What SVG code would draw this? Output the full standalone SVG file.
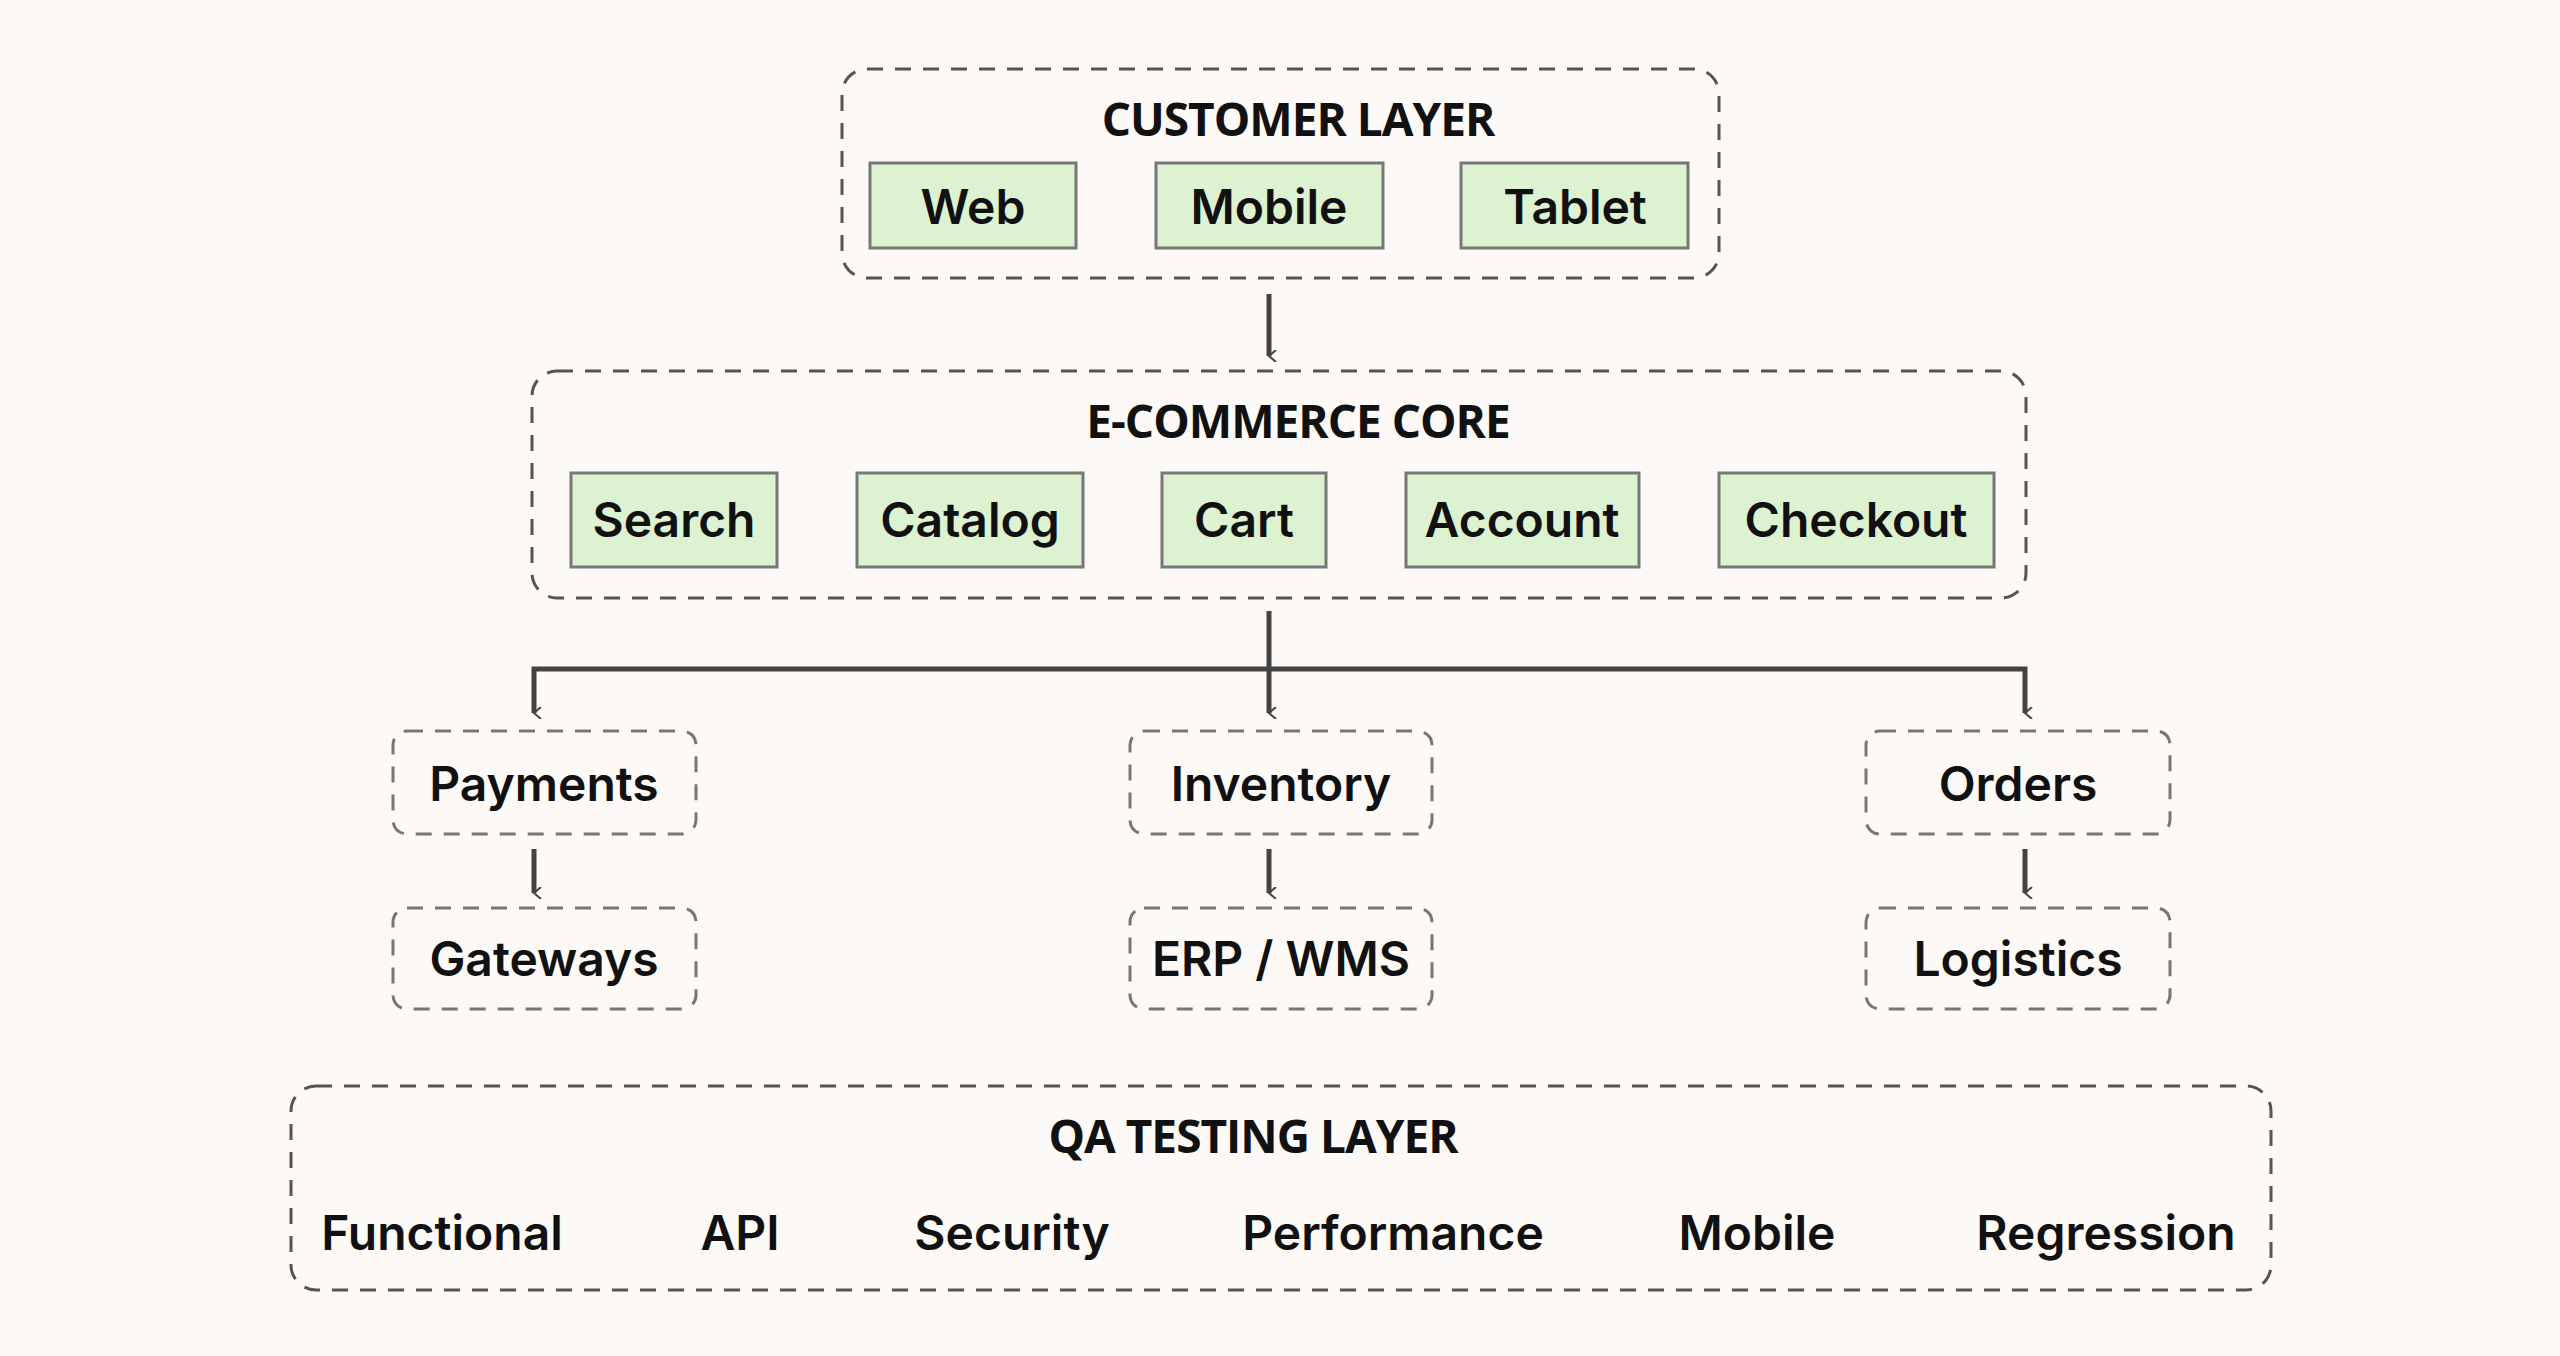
<svg xmlns="http://www.w3.org/2000/svg" width="2560" height="1356" viewBox="0 0 2560 1356">
<style>
.layer{fill:none;stroke:#555;stroke-width:3;stroke-dasharray:16 12}
.svc{fill:#fcf9f7;stroke:#777;stroke-width:3;stroke-dasharray:16 12}
.mod{fill:#dcf2d0;stroke:#777;stroke-width:3}
.title{font-family:"Open Sans",sans-serif;font-weight:700;font-size:46px;fill:#111;text-anchor:middle;dominant-baseline:central;letter-spacing:-1px}
.lbl{font-family:Inter,"Open Sans",sans-serif;font-weight:600;font-size:48px;fill:#111;text-anchor:middle;dominant-baseline:central}
.conn{fill:none;stroke:#444;stroke-width:5}
</style>
<defs><marker id="ah" markerWidth="12" markerHeight="12" refX="6" refY="10" orient="auto-start-reverse" markerUnits="userSpaceOnUse" viewBox="0 0 12 12"><path d="M0,3 L6,10 L12,3" fill="none" stroke="#444" stroke-width="2"/></marker></defs>
<rect width="2560" height="1356" fill="#fcf9f7"/>
<g id="customer-layer">
<rect class="layer" x="842" y="69" width="877" height="209" rx="25"/>
<text class="title" x="1298" y="118">CUSTOMER LAYER</text>
<g id="web"><rect class="mod" x="870" y="163" width="206" height="85"/><text class="lbl" x="973" y="206">Web</text></g>
<g id="mobile"><rect class="mod" x="1156" y="163" width="227" height="85"/><text class="lbl" x="1269" y="206">Mobile</text></g>
<g id="tablet"><rect class="mod" x="1461" y="163" width="227" height="85"/><text class="lbl" x="1575" y="206">Tablet</text></g>
</g>
<g id="ecommerce-core">
<rect class="layer" x="532" y="371" width="1494" height="227" rx="25"/>
<text class="title" x="1298" y="420">E-COMMERCE CORE</text>
<g id="search"><rect class="mod" x="571" y="473" width="206" height="94"/><text class="lbl" x="674" y="519">Search</text></g>
<g id="catalog"><rect class="mod" x="857" y="473" width="226" height="94"/><text class="lbl" x="970" y="519">Catalog</text></g>
<g id="cart"><rect class="mod" x="1162" y="473" width="164" height="94"/><text class="lbl" x="1244" y="519">Cart</text></g>
<g id="account"><rect class="mod" x="1406" y="473" width="233" height="94"/><text class="lbl" x="1522" y="519">Account</text></g>
<g id="checkout"><rect class="mod" x="1719" y="473" width="275" height="94"/><text class="lbl" x="1856" y="519">Checkout</text></g>
</g>
<g id="payments"><rect class="svc" x="393" y="731" width="303" height="103" rx="14"/><text class="lbl" x="544" y="783">Payments</text></g>
<g id="inventory"><rect class="svc" x="1130" y="731" width="302" height="103" rx="14"/><text class="lbl" x="1281" y="783">Inventory</text></g>
<g id="orders"><rect class="svc" x="1866" y="731" width="304" height="103" rx="14"/><text class="lbl" x="2018" y="783">Orders</text></g>
<g id="gateways"><rect class="svc" x="393" y="908" width="303" height="101" rx="14"/><text class="lbl" x="544" y="958">Gateways</text></g>
<g id="erp-wms"><rect class="svc" x="1130" y="908" width="302" height="101" rx="14"/><text class="lbl" x="1281" y="958">ERP / WMS</text></g>
<g id="logistics"><rect class="svc" x="1866" y="908" width="304" height="101" rx="14"/><text class="lbl" x="2018" y="958">Logistics</text></g>
<g id="qa-layer">
<rect class="layer" x="291" y="1086" width="1980" height="204" rx="25"/>
<text class="title" x="1253" y="1135">QA TESTING LAYER</text>
<text class="lbl" x="442" y="1232">Functional</text>
<text class="lbl" x="740" y="1232">API</text>
<text class="lbl" x="1012" y="1232">Security</text>
<text class="lbl" x="1393" y="1232">Performance</text>
<text class="lbl" x="1757" y="1232">Mobile</text>
<text class="lbl" x="2106" y="1232">Regression</text>
</g>
<g id="connectors">
<path class="conn" d="M1269,294 V356" marker-end="url(#ah)"/>
<path class="conn" d="M1269,611 V713" marker-end="url(#ah)"/>
<path class="conn" d="M534,713 V669 H2025 V713" marker-start="url(#ah)" marker-end="url(#ah)"/>
<path class="conn" d="M534,849 V893" marker-end="url(#ah)"/>
<path class="conn" d="M1269,849 V893" marker-end="url(#ah)"/>
<path class="conn" d="M2025,849 V893" marker-end="url(#ah)"/>
</g>
</svg>
